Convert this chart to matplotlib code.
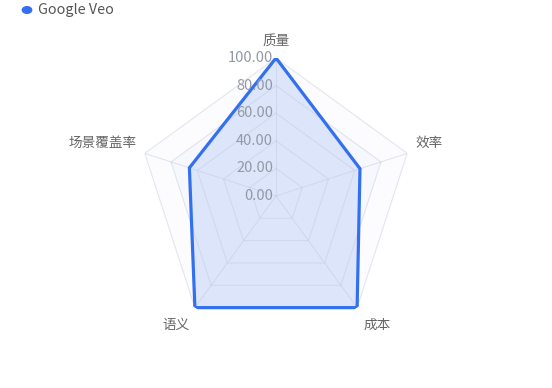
import numpy as np
import matplotlib
matplotlib.use("Agg")
from matplotlib import pyplot as plt

plt.rcParams['font.family'] = ['Noto Sans CJK SC', 'DejaVu Sans']

# 雷达图数据
indicators = ['质量', '效率', '成本', '语义', '场景覆盖率']
series_name = 'Google Veo'
values = [100, 64, 100, 100, 66]
ticks = [0, 20, 40, 60, 80, 100]

line_color = '#3370f0'
grid_color = '#c3cadb'
label_color = '#666666'
tick_color = '#939aa6'

n = len(indicators)
theta = np.arange(n) * 2 * np.pi / n
theta_c = np.append(theta, theta[0])

fig = plt.figure(figsize=(5.52, 3.88), dpi=100)
ax = fig.add_axes([0.25, 0.1392, 0.5, 0.7113], projection='polar')
ax.set_theta_zero_location('N')
ax.set_theta_direction(-1)
ax.set_ylim(0, 100)
ax.axis('off')

# 分隔区域与网格
area_colors = ['#fcfcfe', '#f7f8fd']
for i in range(len(ticks) - 1, 0, -1):
    r = np.full(n + 1, ticks[i])
    ax.fill(theta_c, r, color=area_colors[(i - 1) % 2], lw=0, zorder=1)

# 数据区域
vals = np.append(values, values[0])
ax.fill(theta_c, vals, color='#dce5fa', lw=0, zorder=2)

for t in ticks[1:]:
    ax.plot(theta_c, np.full(n + 1, t), color=grid_color, lw=0.8, zorder=3, alpha=0.45)
for a in theta:
    ax.plot([a, a], [0, 100], color=grid_color, lw=0.8, zorder=3, alpha=0.45)

ax.plot(theta_c, vals, color=line_color, lw=2.3, zorder=4, solid_joinstyle='miter')

# 刻度标签
for t in ticks:
    ax.annotate(f'{t:.2f}', xy=(0, t), xytext=(-2, 0), textcoords='offset points',
                ha='right', va='center', color=tick_color, fontsize=10.5, zorder=5)

# 指示器名称
offsets = [(0, 7), (5.8, 7.2), (4.3, -7.2), (-3.6, -7.2), (-5.8, 7.2)]
aligns = [('center', 'bottom'), ('left', 'center'), ('left', 'top'),
          ('right', 'top'), ('right', 'center')]
for a, name, off, (ha, va) in zip(theta, indicators, offsets, aligns):
    ax.annotate(name, xy=(a, 100), xytext=off, textcoords='offset points',
                ha=ha, va=va, color=label_color, fontsize=9.8)

# 图例
fig.patches.append(plt.Circle((27 / 552, 1 - 10 / 388), 0.0085,
                              transform=fig.transFigure, color=line_color))
fig.text(38 / 552, 1 - 10 / 388, series_name, ha='left', va='center',
         color='#555555', fontsize=10.3)

fig.savefig('out.png', dpi=100)
